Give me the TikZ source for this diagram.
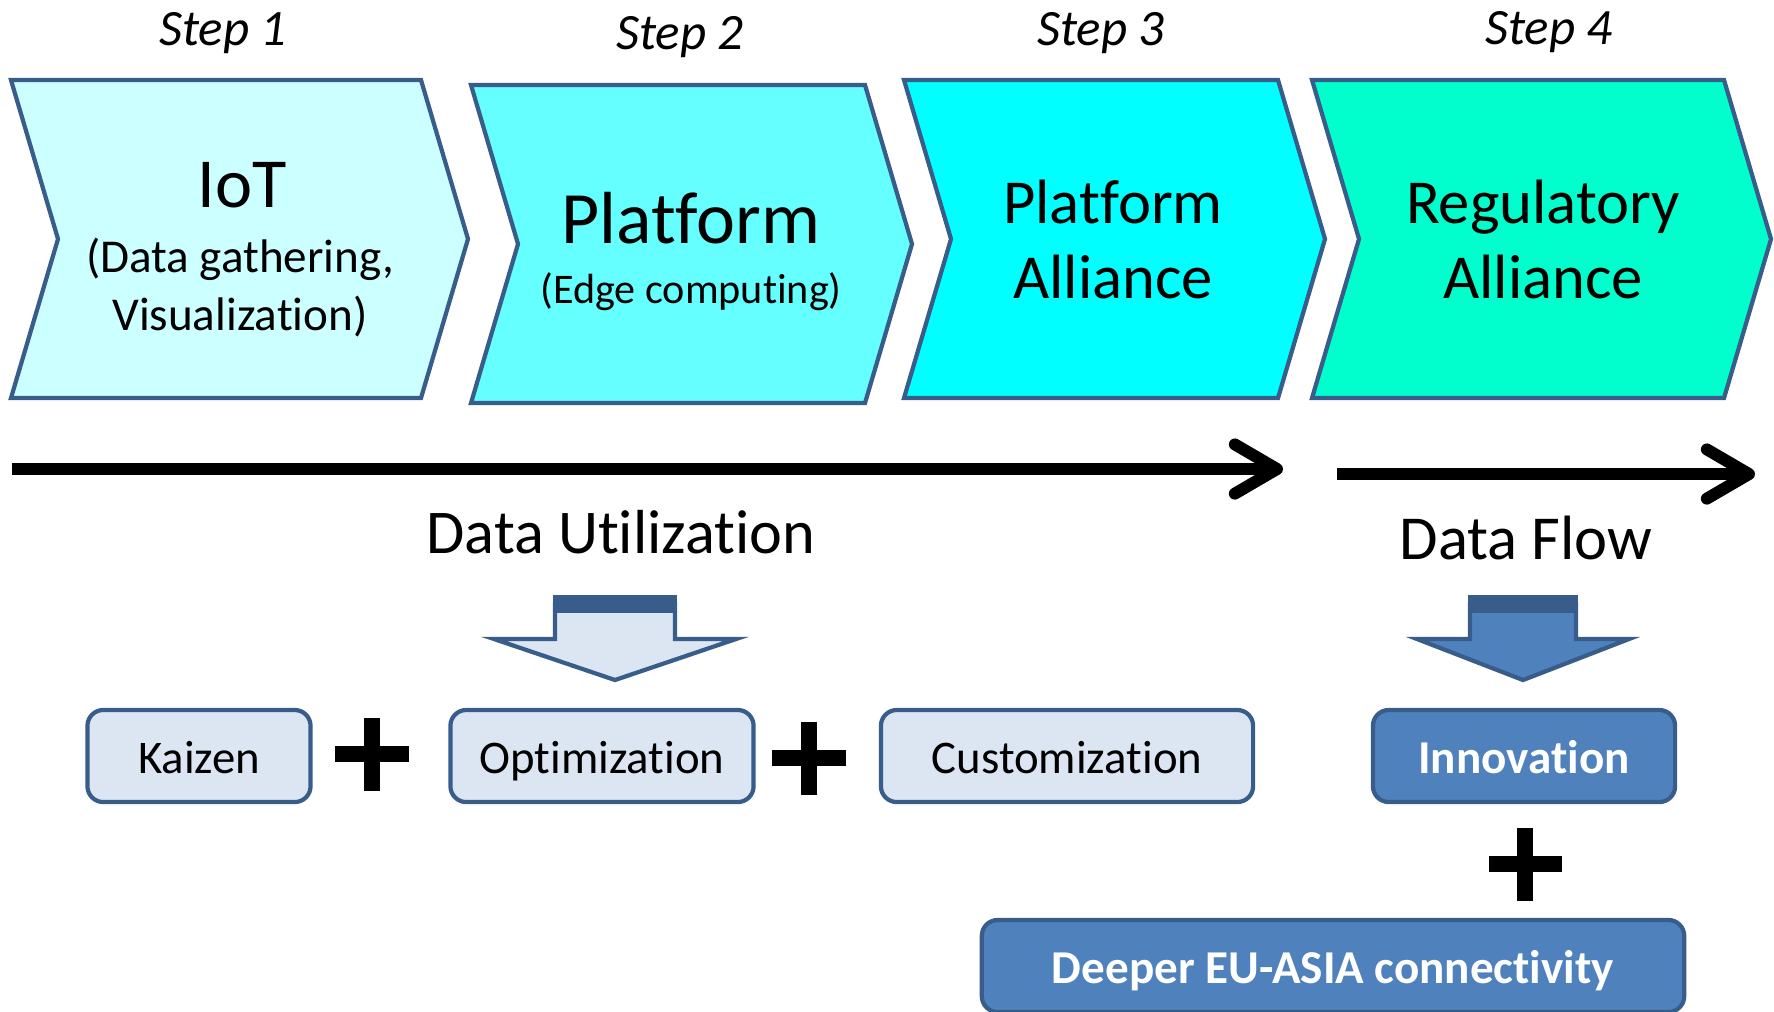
\documentclass[tikz,border=0pt]{standalone}
\usepackage{fontspec}
\setmainfont{Carlito}[Ligatures=NoCommon]
\usepackage{tikz}
\usetikzlibrary{arrows.meta}
\definecolor{edgeblue}{HTML}{385D8A}
\definecolor{paleblue}{HTML}{DCE6F2}
\definecolor{midblue}{HTML}{4F81BD}
\definecolor{stepone}{HTML}{CCFFFF}
\definecolor{steptwo}{HTML}{66FFFF}
\definecolor{stepthree}{HTML}{00FFFF}
\definecolor{stepfour}{HTML}{00FFCC}
\newcommand{\chevstep}[5]{
	\draw [chevline, fill=#5] (#2,#4) -- ++(#3,0) -- ++(47,159) -- ++(-47,159) -- ++(-#3,0) -- ++(47,-159) -- cycle;
	\coordinate (#1) at ({#2+(#3+47)/2},{#4+159});}
\newcommand{\flowarrow}[5]{
	\draw [blockline, fill=#5] (#2-#3,604) -- (#2-#3,639) -- (#2-#4,639) -- (#2,680) -- (#2+#4,639) -- (#2+#3,639) -- (#2+#3,604) -- cycle;
	\fill [edgeblue] (#2-#3-2,595) rectangle (#2+#3+2,613);
	\coordinate (#1) at (#2,680);}
\newcommand{\plusmark}[2]{
	\node [plusbox] (#1) at (#2) {};
	\draw [plusbar] (#1.west) -- (#1.east);
	\draw [plusbar] (#1.north) -- (#1.south);}

\begin{document}
\begin{tikzpicture}[x=0.01cm, y=-0.01cm,
	chevline/.style={draw=edgeblue, line width=1.2pt, line join=miter},
	blockline/.style={draw=edgeblue, line width=1.2pt, line join=miter},
	steplabel/.style={anchor=base, font=\fontsize{14.5}{17}\selectfont\itshape},
	title/.style={anchor=base, inner sep=0pt},
	timeline/.style={line width=3.4pt, -{Straight Barb[length=12pt, width=14pt, round]}},
	box/.style={draw=edgeblue, line width=1.2pt, rounded corners=4.5pt, minimum height=0.92cm,
		text height=11pt, text depth=1pt},
	palebox/.style={box, fill=paleblue, font=\fontsize{13.3}{16}\selectfont},
	darkbox/.style={box, fill=midblue, text=white, font=\fontsize{13.4}{16}\selectfont\bfseries},
	plusbox/.style={minimum size=0.73cm, inner sep=0pt, outer sep=0pt},
	plusbar/.style={line width=4.5pt}]
	\useasboundingbox (0,0) rectangle (1774,1011);

	\chevstep{s1}{11}{410}{80}{stepone}
	\chevstep{s2}{471}{394}{85}{steptwo}
	\chevstep{s3}{904}{374}{80}{stepthree}
	\chevstep{s4}{1312}{412}{80}{stepfour}

	\node [steplabel] (step1) at (223,45) {Step 1};
	\node [steplabel] (step2) at (680,49) {Step 2};
	\node [steplabel] (step3) at (1101,45) {Step 3};
	\node [steplabel] (step4) at (1549,44) {Step 4};

	\node [title, font=\fontsize{20}{24}\selectfont] (iot) at (242,207) {IoT};
	\node [title, font=\fontsize{13.4}{16.5}\selectfont] (iotsub) at (240,272) {\begin{tabular}[t]{@{}c@{}}(Data gathering,\\ Visualization)\end{tabular}};
	\node [title, font=\fontsize{21}{25}\selectfont] (platform) at (691,243) {Platform};
	\node [title, font=\fontsize{12}{15}\selectfont] (platformsub) at (691,303) {(Edge computing)};
	\node [title, font=\fontsize{17.8}{21.6}\selectfont] (palliance) at (1113,223) {\begin{tabular}[t]{@{}c@{}}Platform\\ Alliance\end{tabular}};
	\node [title, font=\fontsize{17.8}{21.6}\selectfont] (ralliance) at (1543,223) {\begin{tabular}[t]{@{}c@{}}Regulatory\\ Alliance\end{tabular}};

	\coordinate (utilstart) at (12,469);
	\coordinate (utilend) at (1283,469);
	\coordinate (flowstart) at (1337,474);
	\coordinate (flowend) at (1755,474);
	\draw [timeline] (utilstart) -- (utilend);
	\draw [timeline] (flowstart) -- (flowend);

	\node [title, font=\fontsize{17.7}{21}\selectfont] (datautil) at (621,553) {Data Utilization};
	\node [title, font=\fontsize{17.8}{21}\selectfont] (dataflow) at (1526,559) {Data Flow};

	\flowarrow{utilarrow}{615}{60}{121}{paleblue}
	\flowarrow{flowarrow}{1523}{53}{106}{midblue}

	\node [palebox, minimum width=2.23cm] (kaizen) at (199,756) {Kaizen};
	\node [palebox, minimum width=3.03cm] (optim) at (602,756) {Optimization};
	\node [palebox, minimum width=3.72cm] (custom) at (1067,756) {Customization};
	\node [darkbox, minimum width=3.02cm] (innov) at (1524,756) {Innovation};
	\node [darkbox, minimum width=7.02cm] (deeper) at (1333,966) {Deeper EU-ASIA connectivity};

	\plusmark{plus1}{372,754}
	\plusmark{plus2}{809,758}
	\plusmark{plus3}{1525,864}
\end{tikzpicture}
\end{document}
